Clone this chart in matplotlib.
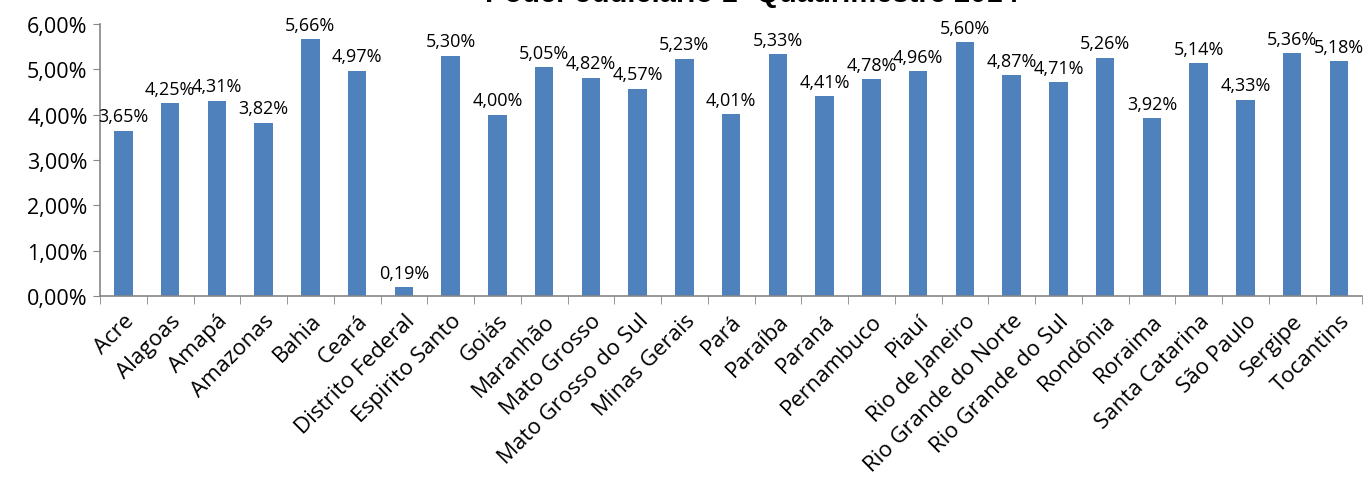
import numpy as np
import matplotlib.pyplot as plt
from matplotlib.ticker import FuncFormatter, MultipleLocator

estados = ['Acre', 'Alagoas', 'Amapá', 'Amazonas', 'Bahia', 'Ceará', 'Distrito Federal',
           'Espirito Santo', 'Goiás', 'Maranhão', 'Mato Grosso', 'Mato Grosso do Sul',
           'Minas Gerais', 'Pará', 'Paraíba', 'Paraná', 'Pernambuco', 'Piauí',
           'Rio de Janeiro', 'Rio Grande do Norte', 'Rio Grande do Sul', 'Rondônia',
           'Roraima', 'Santa Catarina', 'São Paulo', 'Sergipe', 'Tocantins']
percentual = [3.65, 4.25, 4.31, 3.82, 5.66, 4.97, 0.19, 5.30, 4.00, 5.05, 4.82, 4.57,
              5.23, 4.01, 5.33, 4.41, 4.78, 4.96, 5.60, 4.87, 4.71, 5.26, 3.92, 5.14,
              4.33, 5.36, 5.18]
titulo = 'Poder Judiciário 1º Quadrimestre 2014'

plt.rcParams['font.family'] = ['Open Sans', 'DejaVu Sans']

fig = plt.figure(figsize=(13.72, 4.81), dpi=100)
ax = fig.add_axes([0.0729, 0.3825, 0.92, 0.5655])

x = np.arange(len(estados))
ax.bar(x, percentual, width=0.4, color='#4F81BD')

for xi, v in zip(x, percentual):
    ax.text(xi, v + 0.12, f'{v:.2f}%'.replace('.', ','), ha='center', va='bottom',
            fontsize=13, color='black')

ax.set_xlim(-0.5, len(estados) - 0.5)
ax.set_ylim(0, 6)
ax.yaxis.set_major_locator(MultipleLocator(1))
ax.yaxis.set_major_formatter(FuncFormatter(lambda v, p: f'{v:.2f}%'.replace('.', ',')))
ax.tick_params(axis='y', labelsize=15.5, length=5, color='#868686', pad=4)

ax.set_xticks(x)
ax.set_xticklabels(estados, rotation=45, ha='right', rotation_mode='anchor', fontsize=16)
ax.tick_params(axis='x', which='major', length=0, pad=10)
ax.set_xticks(np.arange(-0.5, len(estados), 1), minor=True)
ax.tick_params(axis='x', which='minor', length=6, color='#868686')

for s in ['top', 'right']:
    ax.spines[s].set_visible(False)
for s in ['left', 'bottom']:
    ax.spines[s].set_color('#868686')
    ax.spines[s].set_linewidth(1.2)

# the title sits mostly above the top edge, as in the source image
fig.text(0.548, 0.996, titulo, ha='center', va='baseline', fontsize=21, fontweight='bold',
         family='Liberation Sans')

fig.savefig('out.png', dpi=100)
